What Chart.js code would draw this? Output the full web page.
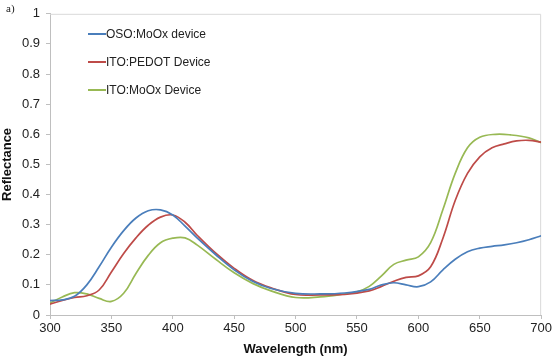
<!DOCTYPE html>
<html>
<head>
<meta charset="utf-8">
<script src="https://cdn.jsdelivr.net/npm/chart.js@4.4.0/dist/chart.umd.min.js"></script>
<style>
  html, body { margin: 0; padding: 0; background: #fff; }
  #wrap { position: relative; width: 554px; height: 357px; }
  #tag { position: absolute; left: 6px; top: 2px; font: 11px "Liberation Serif", serif; color: #222; }
</style>
</head>
<body>
<div id="wrap">
  <div id="tag">a)</div>
  <canvas id="refl" width="554" height="357"></canvas>
</div>
<script>

/* SPECTRA */

const seriesNames = ['OSO:MoOx device', 'ITO:PEDOT Device', 'ITO:MoOx Device'];
const seriesColors = ['#4a7ebb', '#be4b48', '#98b954'];

const osoWl   = [300, 310, 320, 330, 340, 350, 360, 370, 380, 390, 400, 410, 420, 435, 450, 465, 480, 500, 520, 540, 560, 570, 580, 590, 600, 610, 620, 630, 640, 650, 660, 670, 680, 690, 700];
const osoRefl = [0.048, 0.050, 0.062, 0.100, 0.160, 0.225, 0.280, 0.322, 0.346, 0.349, 0.332, 0.295, 0.255, 0.200, 0.150, 0.112, 0.088, 0.072, 0.070, 0.073, 0.085, 0.100, 0.107, 0.100, 0.094, 0.110, 0.150, 0.185, 0.210, 0.222, 0.228, 0.233, 0.240, 0.250, 0.263];

const pedotWl   = [300, 310, 320, 330, 340, 350, 360, 370, 380, 390, 400, 410, 420, 435, 450, 465, 480, 500, 520, 540, 560, 570, 580, 590, 600, 610, 620, 630, 640, 650, 660, 670, 680, 690, 700];
const pedotRefl = [0.036, 0.048, 0.058, 0.064, 0.083, 0.143, 0.204, 0.256, 0.298, 0.325, 0.332, 0.308, 0.264, 0.205, 0.155, 0.115, 0.090, 0.068, 0.067, 0.068, 0.080, 0.095, 0.112, 0.125, 0.130, 0.160, 0.255, 0.380, 0.470, 0.525, 0.555, 0.568, 0.578, 0.580, 0.574];

const moxWl   = [300, 310, 320, 330, 340, 350, 360, 370, 380, 390, 400, 410, 420, 435, 450, 465, 480, 500, 520, 540, 550, 560, 570, 580, 590, 600, 610, 620, 630, 640, 650, 663, 675, 690, 700];
const moxRefl = [0.040, 0.060, 0.074, 0.070, 0.055, 0.045, 0.072, 0.138, 0.198, 0.240, 0.255, 0.256, 0.232, 0.185, 0.140, 0.105, 0.080, 0.058, 0.060, 0.070, 0.077, 0.095, 0.130, 0.168, 0.182, 0.193, 0.240, 0.350, 0.470, 0.555, 0.590, 0.600, 0.598, 0.588, 0.572];

const xTicks = [300, 350, 400, 450, 500, 550, 600, 650, 700];
const yTicks = [0, 0.1, 0.2, 0.3, 0.4, 0.5, 0.6, 0.7, 0.8, 0.9, 1];

function toPoints(xs, ys){
    return xs.map((x, i) => ({ x: x, y: ys[i] }));
}

/* legend drawn inside the plot, top left */

const innerLegend = {
    id: 'innerLegend',
    afterDatasetsDraw(chart){
        const ctx = chart.ctx;
        ctx.save();
        ctx.font = '12px "Liberation Sans", Arial, sans-serif';
        ctx.textBaseline = 'middle';
        chart.data.datasets.forEach((ds, i) => {
            let y = 34 + i * 28;
            ctx.strokeStyle = ds.borderColor;
            ctx.lineWidth = 2;
            ctx.beginPath();
            ctx.moveTo(88, y);
            ctx.lineTo(106, y);
            ctx.stroke();
            ctx.fillStyle = '#222';
            ctx.fillText(ds.label, 106, y + 1);
        });
        ctx.restore();
    }
};

/* light frame on top and right of the plot area */

const plotFrame = {
    id: 'plotFrame',
    beforeDatasetsDraw(chart){
        const a = chart.chartArea;
        const ctx = chart.ctx;
        ctx.save();
        ctx.strokeStyle = '#d9d9d9';
        ctx.lineWidth = 1;
        ctx.beginPath();
        ctx.moveTo(a.left, a.top + 0.5);
        ctx.lineTo(a.right - 0.5, a.top + 0.5);
        ctx.lineTo(a.right - 0.5, a.bottom);
        ctx.stroke();
        ctx.restore();
    }
};

const xyData = [toPoints(osoWl, osoRefl), toPoints(pedotWl, pedotRefl), toPoints(moxWl, moxRefl)];
const tickFont = { family: '"Liberation Sans", Arial, sans-serif', size: 13 };
const titleFont = { family: '"Liberation Sans", Arial, sans-serif', size: 13, weight: 'bold' };

new Chart(document.getElementById('refl'), {
    type: 'line',
    data: {
        datasets: xyData.map((pts, i) => ({
            label: seriesNames[i],
            data: pts,
            borderColor: seriesColors[i],
            backgroundColor: seriesColors[i],
            borderWidth: 1.7,
            pointRadius: 0,
            tension: 0.4,
            fill: false
        }))
    },
    options: {
        responsive: false,
        animation: false,
        layout: { autoPadding: false, padding: { top: 13, right: 9, left: 0, bottom: 0 } },
        plugins: { legend: { display: false }, tooltip: { enabled: false } },
        scales: {
            x: {
                type: 'linear',
                min: 300,
                max: 700,
                afterBuildTicks: s => { s.ticks = xTicks.map(v => ({ value: v })); },
                afterFit: s => { s.height = 42; },
                grid: { drawOnChartArea: false, tickLength: 4, color: '#bfbfbf' },
                border: { color: '#bfbfbf' },
                ticks: { color: '#222', padding: 2, font: tickFont },
                title: { display: true, text: 'Wavelength (nm)', color: '#111', padding: { top: 1, bottom: 0 }, font: titleFont }
            },
            y: {
                min: 0,
                max: 1,
                afterBuildTicks: s => { s.ticks = yTicks.map(v => ({ value: v })); },
                afterFit: s => { s.width = 50; },
                grid: { drawOnChartArea: false, tickLength: 4, color: '#bfbfbf' },
                border: { color: '#bfbfbf' },
                ticks: { color: '#222', padding: 6, font: tickFont, callback: v => String(v) },
                title: { display: true, text: 'Reflectance', color: '#111', padding: { top: 0, bottom: 0 }, font: titleFont }
            }
        }
    },
    plugins: [plotFrame, innerLegend]
});

</script>
</body>
</html>
